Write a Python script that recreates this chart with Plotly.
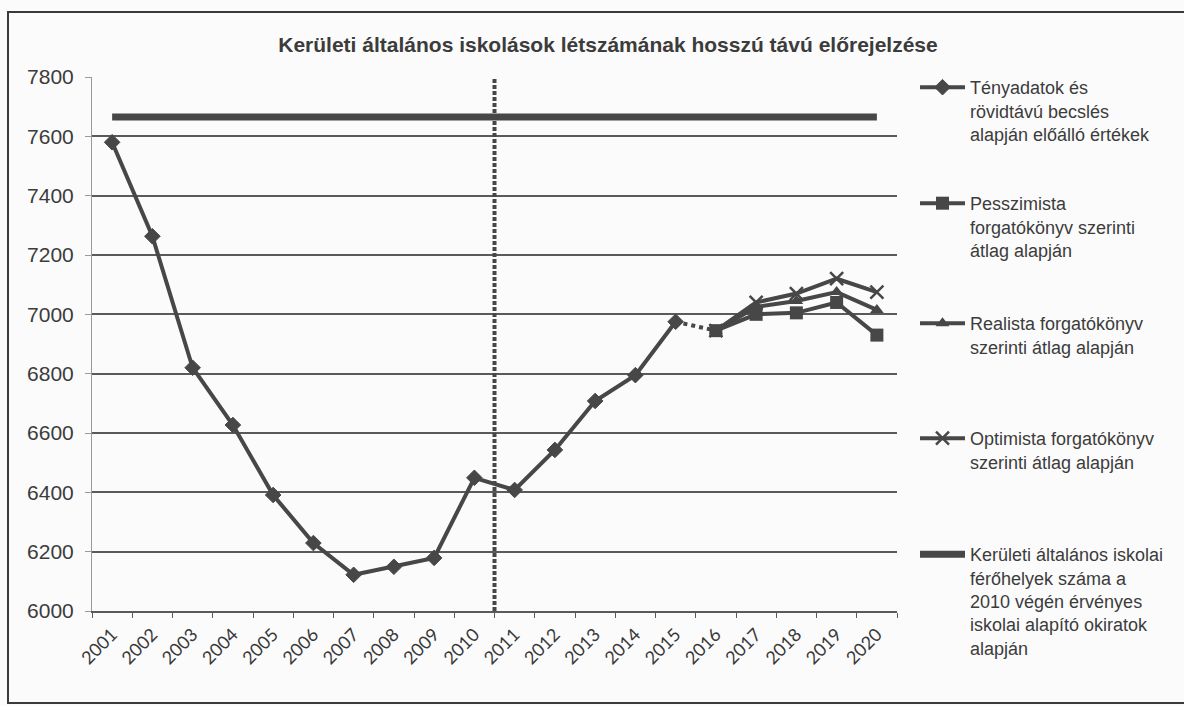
import plotly.graph_objects as go

# ---------------- data ----------------
years = ["2001", "2002", "2003", "2004", "2005", "2006", "2007", "2008", "2009", "2010",
         "2011", "2012", "2013", "2014", "2015", "2016", "2017", "2018", "2019", "2020"]

actual_years = years[:15]
actual = [7580, 7263, 6820, 6627, 6391, 6229, 6122, 6149, 6179, 6449,
          6408, 6543, 6708, 6795, 6975]

forecast_years = years[15:]
pessimist = [6945, 7000, 7005, 7040, 6930]
realist = [6945, 7025, 7045, 7075, 7015]
optimist = [6945, 7040, 7070, 7120, 7075]

capacity = [7665, 7665, 7665, 7665, 7665, 7665, 7665, 7665, 7665, 7665,
            7665, 7665, 7665, 7665, 7665, 7665, 7665, 7665, 7665, 7665]

y_ticks = [6000, 6200, 6400, 6600, 6800, 7000, 7200, 7400, 7600, 7800]
split_after = "2010"

title_text = "Kerületi általános iskolások létszámának hosszú távú előrejelzése"
name_actual = "Tényadatok és<br>rövidtávú becslés<br>alapján előálló értékek"
name_pess = "Pesszimista<br>forgatókönyv szerinti<br>átlag alapján"
name_real = "Realista forgatókönyv<br>szerinti átlag alapján"
name_opt = "Optimista forgatókönyv<br>szerinti átlag alapján"
name_cap = ("Kerületi általános iskolai<br>férőhelyek száma a<br>2010 végén érvényes"
            "<br>iskolai alapító okiratok<br>alapján")

# ---------------- style ----------------
INK = "#474747"
GRID = "#5a5a5a"
BG = "#fbfbfb"
FONT = "Liberation Sans, Arial, sans-serif"

fig = go.Figure()

fig.add_trace(go.Scatter(
    x=years, y=capacity, mode="lines", name=name_cap, legend="legend5",
    line=dict(color=INK, width=7)))

fig.add_trace(go.Scatter(
    x=[actual_years[-1], forecast_years[0]], y=[actual[-1], pessimist[0]],
    mode="lines", showlegend=False,
    line=dict(color=INK, width=4, dash="dot")))

fig.add_trace(go.Scatter(
    x=actual_years, y=actual, mode="lines+markers", name=name_actual, legend="legend",
    line=dict(color=INK, width=4),
    marker=dict(symbol="diamond", size=12, color=INK, line=dict(color=INK, width=1))))

fig.add_trace(go.Scatter(
    x=forecast_years, y=optimist, mode="lines+markers", name=name_opt, legend="legend4",
    line=dict(color=INK, width=4),
    marker=dict(symbol="x-thin", size=13, color=INK, line=dict(color=INK, width=2.5))))

fig.add_trace(go.Scatter(
    x=forecast_years, y=realist, mode="lines+markers", name=name_real, legend="legend3",
    line=dict(color=INK, width=4),
    marker=dict(symbol="triangle-up", size=12, color=INK)))

fig.add_trace(go.Scatter(
    x=forecast_years, y=pessimist, mode="lines+markers", name=name_pess, legend="legend2",
    line=dict(color=INK, width=4),
    marker=dict(symbol="square", size=13, color=INK)))

# vertical dotted separator between actual and forecast periods
split_pos = years.index(split_after) + 0.5
fig.add_shape(type="line", xref="x", yref="y",
              x0=split_pos, x1=split_pos, y0=y_ticks[0], y1=y_ticks[-1],
              line=dict(color=INK, width=4, dash="4px,2px"))

# outer chart frame
L, R, T, B = 92, 287, 77, 95
W, H = 1184, 706
pw, ph = W - L - R, H - T - B


def px_x(px):
    return (px - L) / pw


def px_y(py):
    return (H - B - py) / ph


fig.add_shape(type="rect", xref="paper", yref="paper",
              x0=px_x(8), x1=px_x(1200), y0=px_y(703), y1=px_y(12),
              line=dict(color="#3a3a3a", width=2), fillcolor="rgba(0,0,0,0)", layer="below")


def legend_at(top_px):
    return dict(x=px_x(915), xanchor="left", y=px_y(top_px), yanchor="top",
                bgcolor="rgba(0,0,0,0)", borderwidth=0, valign="top", itemwidth=45,
                font=dict(family=FONT, size=18, color="#3c3c3c"))


fig.update_layout(
    width=W, height=H,
    margin=dict(l=L, r=R, t=T, b=B, pad=0),
    paper_bgcolor=BG, plot_bgcolor=BG,
    font=dict(family=FONT, color="#3c3c3c"),
    title=dict(text="<b>" + title_text + "</b>", x=px_x(608), xref="paper", xanchor="center",
               y=1 - 45 / H, yref="container", yanchor="middle",
               font=dict(family=FONT, size=21, color="#3c3c3c")),
    legend=legend_at(69),
    legend2=legend_at(185),
    legend3=legend_at(305),
    legend4=legend_at(420),
    legend5=legend_at(536),
    xaxis=dict(type="category", categoryorder="array", categoryarray=years,
               tickson="boundaries", ticks="outside", ticklen=5, tickcolor=GRID,
               showgrid=False, showline=True, linecolor=GRID, linewidth=2,
               tickangle=-45, ticklabelstandoff=4,
               tickfont=dict(family="Lato, Open Sans, sans-serif", size=18, color="#383838"),
               range=[-0.5, len(years) - 0.5], zeroline=False),
    yaxis=dict(range=[y_ticks[0], y_ticks[-1]], tickvals=y_ticks,
               showgrid=True, gridcolor=GRID, gridwidth=1.6,
               showline=True, linecolor="#9a9a9a", linewidth=1,
               ticks="outside", ticklen=6, tickcolor="#9a9a9a",
               ticklabelstandoff=7, zeroline=False,
               tickfont=dict(family=FONT, size=21, color="#3c3c3c")),
    showlegend=True,
)

fig.write_html("out.html", config={"displayModeBar": False},
               post_script="document.body.style.margin='0';")
